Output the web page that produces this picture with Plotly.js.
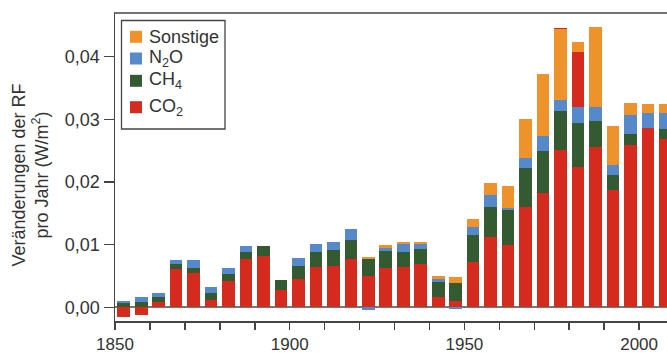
<!DOCTYPE html>
<html>
<head>
<meta charset="utf-8">
<script src="https://cdn.plot.ly/plotly-3.0.1.min.js"></script>
<style>html,body{margin:0;padding:0;background:#fff;}#chart{width:667px;height:353px;}</style>
</head>
<body>
<div id="chart"></div>
<script>
// 5-year bins (start year of each bin)
const years = [1850,1855,1860,1865,1870,1875,1880,1885,1890,1895,1900,1905,1910,1915,1920,1925,1930,1935,1940,1945,1950,1955,1960,1965,1970,1975,1980,1985,1990,1995,2000,2005];
const co2 = [-0.0015,-0.0013,0.00085,0.0061,0.0055,0.0012,0.0042,0.0077,0.0082,0.0028,0.0045,0.0064,0.0066,0.0077,0.0050,0.0063,0.0064,0.0069,0.0016,0.0010,0.0072,0.0112,0.0099,0.0160,0.0182,0.0251,0.0224,0.0256,0.0187,0.0259,0.0286,0.0268];
const ch4 = [0.0007,0.00085,0.0008,0.0008,0.0008,0.0011,0.0011,0.0011,0.0016,0.0016,0.0021,0.0024,0.0025,0.0030,0.0027,0.0027,0.0024,0.0024,0.0024,0.0029,0.0043,0.0048,0.0056,0.0062,0.0067,0.0062,0.0070,0.0041,0.0024,0.00175,0.0,0.0016];
const n2o = [0.0003,0.0008,0.00064,0.00064,0.00127,0.00096,0.00096,0.00096,0.0,0.0,0.0012,0.0013,0.0014,0.0018,-0.0004,0.0005,0.0013,0.0008,0.0005,-0.0002,0.0013,0.0019,0.0003,0.0016,0.0024,0.00175,0.0026,0.0022,0.0016,0.0030,0.0024,0.0026];
// extra CO2-coloured segments visible in the original (above N2O in 1980, on top in 1975)
const co2Upper = [0,0,0,0,0,0,0,0,0,0,0,0,0,0,0,0,0,0,0,0,0,0,0,0,0,0,0.0088,0,0,0,0,0];
const sonstige = [0,0,0,0,0,0,0,0,0,0,0,0,0,0,0.0003,0.0005,0.0003,0.0003,0.0005,0.00095,0.0013,0.0019,0.0035,0.0062,0.0100,0.0113,0.0016,0.0128,0.0062,0.0019,0.0014,0.0014];
const co2Cap = [0,0,0,0,0,0,0,0,0,0,0,0,0,0,0,0,0,0,0,0,0,0,0,0,0,0.0002,0,0,0,0,0,0];

const tickYears = [1850,1900,1950,2000];
const tickLabels = ['1850','1900','1950','2000'];
const yTickVals = [0,0.01,0.02,0.03,0.04];
const yTickLabels = ['0,00','0,01','0,02','0,03','0,04'];

const legendNames = ['Sonstige','N<sub>2</sub>O','CH<sub>4</sub>','CO<sub>2</sub>'];
const colors = {co2:'#D52A1E', ch4:'#335A31', n2o:'#5689CA', son:'#EE922C'};
const legendColors = [colors.son, colors.n2o, colors.ch4, colors.co2];

const FONT = 'Liberation Sans, Arial, Helvetica, sans-serif';
const TXT = '#333333';
const AX = '#444444';

function barTrace(vals, color, name){
  return {type:'bar', x:years, y:vals, name:name, width:3.63, offset:0.685,
    marker:{color:color, line:{width:0}}, hoverinfo:'skip', showlegend:false};
}
const data = [
  barTrace(co2, colors.co2, 'CO2'),
  barTrace(ch4, colors.ch4, 'CH4'),
  barTrace(n2o, colors.n2o, 'N2O'),
  barTrace(co2Upper, colors.co2, 'CO2 (oben)'),
  barTrace(sonstige, colors.son, 'Sonstige'),
  barTrace(co2Cap, colors.co2, 'CO2 (Spitze)')
];

// layout helpers (pixel -> paper) for legend box & title only
const PL=115, PT=13, PW=552, PH=308;
function px(x){return (x-PL)/PW;}
function py(y){return (PT+PH-y)/PH;}

const shapes = [
  {type:'line', xref:'paper', yref:'paper', x0:px(114), x1:1, y0:1, y1:1, line:{color:AX, width:1.5}},
  {type:'rect', xref:'paper', yref:'paper', x0:px(121.5), x1:px(225), y0:py(129), y1:py(20.5), line:{color:AX, width:1.3}, fillcolor:'rgba(255,255,255,0)'}
];
const rowCenters = [36.8, 58.5, 80.8, 107.2];
const annotations = [
  {text:'Veränderungen der RF<br>pro Jahr (W/m<sup>2</sup>)', xref:'paper', yref:'paper', x:px(29.6), y:py(175), textangle:-90,
   xanchor:'center', yanchor:'middle', showarrow:false, font:{family:FONT, size:18, color:TXT}}
];
legendNames.forEach((n,i)=>{
  const c = rowCenters[i];
  shapes.push({type:'rect', xref:'paper', yref:'paper', x0:px(130), x1:px(142), y0:py(c+6), y1:py(c-6), line:{width:0}, fillcolor:legendColors[i]});
  annotations.push({text:n, xref:'paper', yref:'paper', x:px(147), y:py(c), xanchor:'left', yanchor:'middle', showarrow:false,
    font:{family:FONT, size:18, color:TXT}});
});

const layout = {
  width:667, height:353,
  margin:{l:PL, r:0, t:PT, b:353-PT-PH, pad:0},
  barmode:'relative', bargap:0,
  showlegend:false,
  paper_bgcolor:'#ffffff', plot_bgcolor:'#ffffff',
  font:{family:FONT, size:18, color:TXT},
  xaxis:{range:[1850,2007.98], tickmode:'array', tickvals:tickYears, ticktext:tickLabels,
    ticks:'outside', ticklen:7, tickwidth:1.5, tickcolor:AX, showline:true, linecolor:AX, linewidth:1.5,
    minor:{ticks:'outside', ticklen:7, tickwidth:1.5, tickcolor:AX, tick0:1850, dtick:10, showgrid:false},
    showgrid:false, zeroline:false, tickfont:{family:FONT, size:17, color:TXT}, fixedrange:true},
  yaxis:{range:[-0.002187,0.046975], tickmode:'array', tickvals:yTickVals, ticktext:yTickLabels,
    ticks:'outside', ticklen:10, tickwidth:1.5, tickcolor:AX, showline:true, linecolor:AX, linewidth:1.5,
    showgrid:false, zeroline:true, zerolinecolor:'#777777', zerolinewidth:1.6, layer:'above traces',
    tickfont:{family:FONT, size:18, color:TXT}, fixedrange:true},
  shapes:shapes,
  annotations:annotations
};

Plotly.newPlot('chart', data, layout, {staticPlot:true, displayModeBar:false});
</script>
</body>
</html>
